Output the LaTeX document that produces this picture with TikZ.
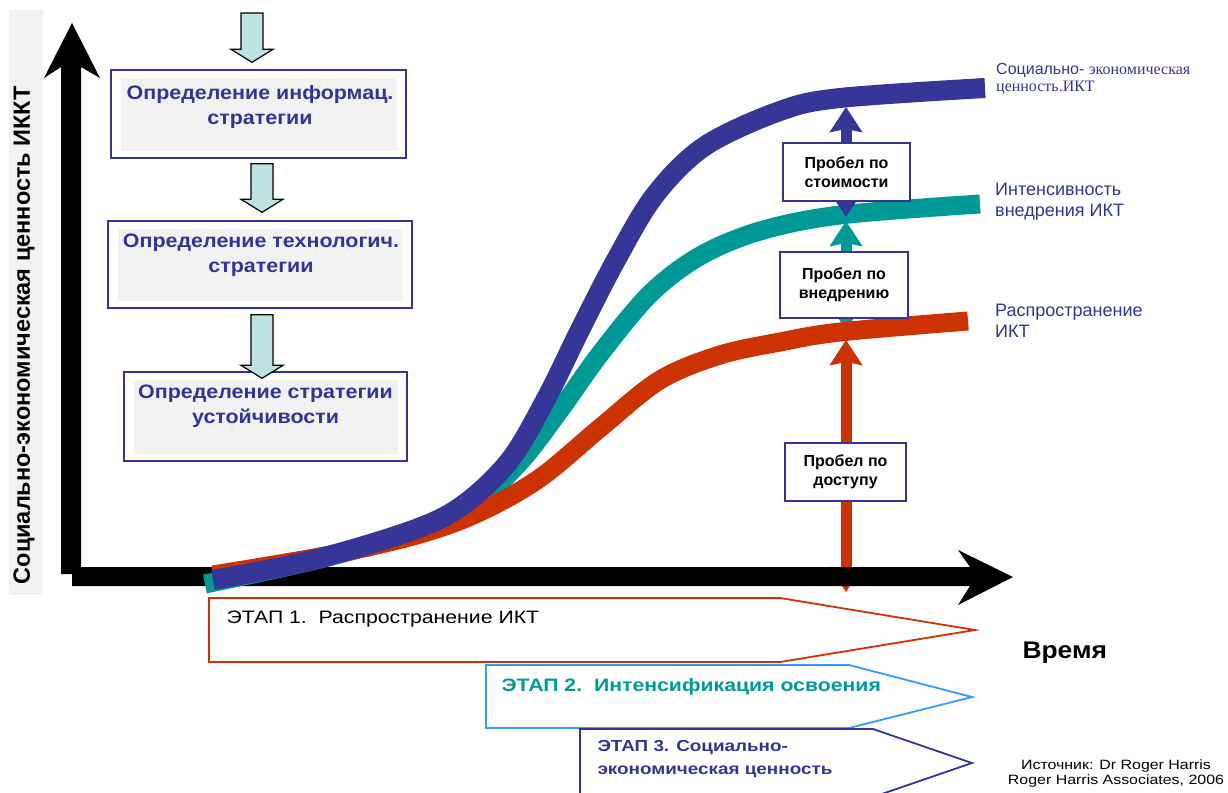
\documentclass[tikz,border=0pt]{standalone}
\usepackage{fontspec}
\setmainfont{Liberation Sans}
\newfontfamily\timesfont{Liberation Serif}
\newfontfamily\wideA[FakeStretch=1.1]{Liberation Sans}
\newfontfamily\wideB[FakeStretch=1.18]{Liberation Sans}
\usepackage{tikz}
\usetikzlibrary{arrows.meta, positioning, calc}

\definecolor{navy}{HTML}{333399}
\definecolor{curveblue}{HTML}{363698}
\definecolor{tealc}{HTML}{009A96}
\definecolor{rust}{HTML}{CC3300}
\definecolor{skyline}{HTML}{3399FF}
\definecolor{paleblue}{HTML}{BDE2E2}
\definecolor{panel}{HTML}{F2F2F2}

% block arrow from #1 (top) down to #2 (tip)
\newcommand{\blockdown}[2]{%
    \draw[blockarrow] ($(#1)+(-11,0)$) -- ($(#2)+(-11,-13)$) -- ($(#2)+(-21,-13)$) -- (#2)
        -- ($(#2)+(21,-13)$) -- ($(#2)+(11,-13)$) -- ($(#1)+(11,0)$) -- cycle;}

\begin{document}
\begin{tikzpicture}[x=1pt, y=-1pt, >=Stealth,
    stratbox/.style={draw=navy, line width=1.4pt, fill=white, inner sep=0pt,
        path picture={\fill[panel] ($(path picture bounding box.north west)+(10,8)$)
            rectangle ($(path picture bounding box.south east)+(-9,-7)$);}},
    strattext/.style={text=navy, align=center, font=\wideA\bfseries\fontsize{19.5}{25}\selectfont},
    blockarrow/.style={draw=black, line width=1.2pt, fill=paleblue, line join=miter},
    gapbox/.style={draw=navy, line width=1.4pt, fill=white, align=center, inner sep=0pt,
        font=\bfseries\fontsize{16}{19}\selectfont},
    gaparrow/.style={line width=11pt,
        arrows={Stealth[length=25pt, width=32pt, inset=3pt]-Stealth[length=25pt, width=32pt, inset=3pt]}},
    curve/.style={line width=19pt, line cap=butt},
    stage/.style={line width=1.8pt, line join=miter},
    sidelabel/.style={text=navy, align=left, inner sep=0pt, anchor=north west,
        font=\fontsize{18}{21}\selectfont}]

    \useasboundingbox (0,0) rectangle (1228,792);

    % vertical axis label
    \fill[panel] (9,10) rectangle (43,595);
    \node[rotate=90, font=\bfseries\fontsize{23.5}{26}\selectfont] (ylab) at (24,335)
        {Социально-экономическая ценность ИККТ};

    % strategy boxes
    \node[stratbox, minimum width=295pt, minimum height=88pt] (b1) at (258.5,114) {};
    \node[strattext] (t1) at ($(b1)+(1.5,-7)$) {Определение информац.\\стратегии};
    \node[stratbox, minimum width=304pt, minimum height=87pt] (b2) at (260,264.5) {};
    \node[strattext] (t2) at ($(b2)+(1,-9)$) {Определение технологич.\\стратегии};
    \node[stratbox, minimum width=283pt, minimum height=89pt] (b3) at (265.5,416.5) {};
    \node[strattext] (t3) at ($(b3)+(0,-10)$) {Определение стратегии\\устойчивости};

    \coordinate (start) at (252,13);
    \blockdown{start}{$(b1.north)+(-6.5,-7)$}
    \blockdown{$(b1.south)+(3.5,5)$}{$(b2.north)+(2,-8)$}
    \blockdown{$(b2.south)+(2,6)$}{$(b3.north)+(-3.5,7)$}

    % access gap (under the time axis)
    \coordinate (accesstop) at (846,340);
    \coordinate (accessbot) at (846,592);
    \draw[gaparrow, rust] (accessbot) -- (accesstop);

    % axes
    \fill (61,574) -- (61,67) -- (44,78) -- (72,23) -- (100,78) -- (81,67) -- (81,574) -- cycle;
    \fill (72,567) -- (970,567) -- (958,550) -- (1013,577) -- (958,605) -- (970,586) -- (72,586) -- cycle;

    % curves
    \draw[curve, tealc] plot[smooth, tension=0.55] coordinates {(205,584) (320,559) (420,530)
        (475,503) (520,462) (560,410) (600,354) (650,294) (700,256) (760,231) (840,215) (980,204)};

    % cost and adoption gaps
    \coordinate (valuetop) at (846,107);
    \coordinate (adopttop) at (846,221);
    \coordinate (adoptbot) at (846,330);
    \draw[gaparrow, tealc] (adoptbot) -- (adopttop);
    \draw[gaparrow, curveblue] ($(adopttop)+(0,-4)$) -- (valuetop);

    \draw[curve, rust] plot[smooth, tension=0.55] coordinates {(213,575) (330,555) (420,534)
        (480,512) (540,478) (600,428) (660,380) (720,355) (780,342) (840,332) (968,321)};
    \draw[curve, curveblue, line width=20pt] plot[smooth, tension=0.55] coordinates {(213,580)
        (313,560) (413,530) (463,505) (510,460) (547,397) (580,330) (616,260) (655,195)
        (705,146) (780,111) (840,98) (985,88)};

    % gap boxes
    \node[gapbox, minimum width=127pt, minimum height=58pt] (gcost) at (846.5,172) {Пробел по\\стоимости};
    \node[gapbox, minimum width=128pt, minimum height=66pt] (gadopt) at (844,285) {Пробел по\\внедрению};
    \node[gapbox, minimum width=121pt, minimum height=58pt] (gaccess) at (845.5,472) {Пробел по\\доступу};

    % curve labels
    \node[sidelabel, font=\fontsize{16}{17}\selectfont] (lvalue) at (996,63)
        {Социально- {\timesfont экономическая}\\{\timesfont ценность.ИКТ}};
    \node[sidelabel] (lintens) at (995,183) {Интенсивность\\внедрения ИКТ};
    \node[sidelabel] (lspread) at (995,304) {Распространение\\ИКТ};

    % stages
    \draw[stage, rust, fill=white] (209,598) -- (780,598) -- (975,630) -- (780,662) -- (209,662) -- cycle;
    \node[anchor=west, font=\wideB\fontsize{18}{22}\selectfont] (s1) at (223,619) {ЭТАП 1.\ \ Распространение ИКТ};
    \draw[stage, skyline, fill=white] (486,665) -- (849,665) -- (972,697) -- (849,728) -- (486,728) -- cycle;
    \node[anchor=west, text=tealc, font=\wideB\bfseries\fontsize{18}{22}\selectfont] (s2) at (498,687)
        {ЭТАП 2.\ \ Интенсификация освоения};
    \draw[stage, navy, fill=white] (580,729) -- (873,729) -- (972,763) -- (873,797) -- (580,797) -- cycle;
    \node[anchor=west, align=left, text=navy, font=\wideB\bfseries\fontsize{16}{23}\selectfont] (s3) at (594,759)
        {ЭТАП 3. Социально-\\экономическая ценность};

    \node[anchor=base west, font=\wideA\bfseries\fontsize{24}{26}\selectfont] (time) at (1019,658) {Время};
    \node[align=center, font=\wideB\fontsize{13.5}{15}\selectfont] (src) at (1116,773)
        {Источник: Dr Roger Harris\\Roger Harris Associates, 2006};
\end{tikzpicture}
\end{document}
